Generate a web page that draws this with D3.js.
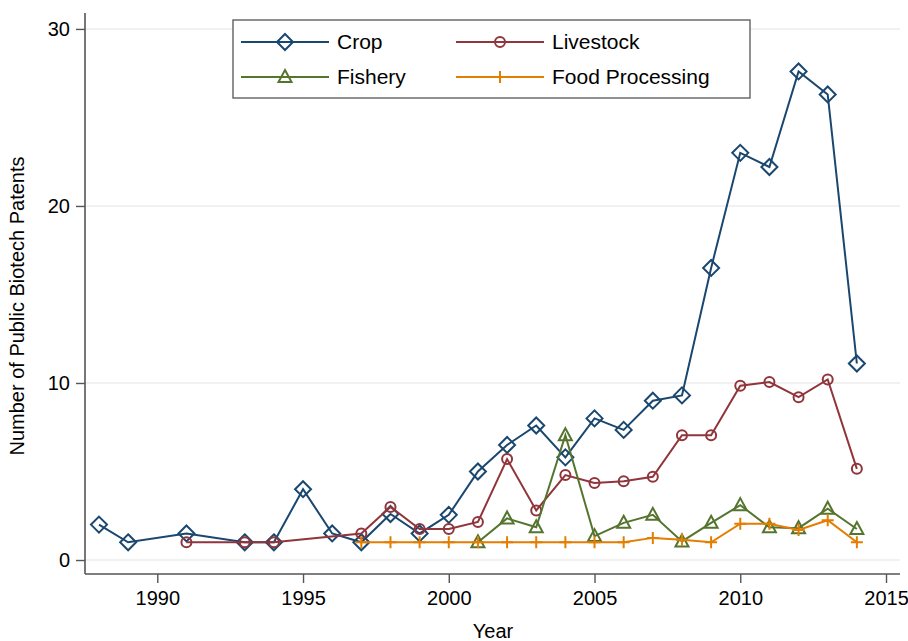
<!DOCTYPE html>
<html>
<head>
<meta charset="utf-8">
<style>
body { margin: 0; background: #fff; }
text { font-family: "Liberation Sans", Arial, sans-serif; fill: #000; }
</style>
</head>
<body>
<svg id="chart" width="908" height="641"></svg>
<script src="https://d3js.org/d3.v7.min.js"></script>
<script>

// data
var cropYears = [1988, 1989, 1991, 1993, 1994, 1995, 1996, 1997, 1998, 1999, 2000, 2001, 2002, 2003, 2004, 2005, 2006, 2007, 2008, 2009, 2010, 2011, 2012, 2013, 2014]
var cropVals  = [2, 1, 1.5, 1, 1, 4, 1.5, 1, 2.6, 1.5, 2.55, 5, 6.5, 7.6, 5.8, 8, 7.35, 9, 9.3, 16.5, 23, 22.2, 27.6, 26.3, 11.1]

var liveYears = [1991, 1993, 1994, 1997, 1998, 1999, 2000, 2001, 2002, 2003, 2004, 2005, 2006, 2007, 2008, 2009, 2010, 2011, 2012, 2013, 2014]
var liveVals  = [1, 1, 1, 1.5, 3, 1.75, 1.75, 2.15, 5.7, 2.8, 4.8, 4.35, 4.45, 4.7, 7.05, 7.05, 9.85, 10.05, 9.2, 10.2, 5.15]

var fishYears = [2001, 2002, 2003, 2004, 2005, 2006, 2007, 2008, 2009, 2010, 2011, 2012, 2013, 2014]
var fishVals  = [1, 2.35, 1.85, 7.05, 1.35, 2.1, 2.55, 1.05, 2.1, 3.1, 1.85, 1.8, 2.9, 1.75]

var foodYears = [1997, 1998, 1999, 2000, 2001, 2002, 2003, 2004, 2005, 2006, 2007, 2008, 2009, 2010, 2011, 2012, 2013, 2014]
var foodVals  = [1, 1, 1, 1, 1, 1, 1, 1, 1, 1, 1.25, 1.15, 1, 2.05, 2.05, 1.7, 2.25, 1]

var xTicks = [1990, 1995, 2000, 2005, 2010, 2015]
var yTicks = [0, 10, 20, 30]

var series = [
  {name: "Crop", years: cropYears, vals: cropVals, color: "#1a476f", shape: "diamond"},
  {name: "Livestock", years: liveYears, vals: liveVals, color: "#90353b", shape: "circle"},
  {name: "Fishery", years: fishYears, vals: fishVals, color: "#55752f", shape: "triangle"},
  {name: "Food Processing", years: foodYears, vals: foodVals, color: "#e37e00", shape: "plus"}
]

var svg = d3.select("#chart")
var pLeft = 85, pRight = 900, pTop = 13, pBottom = 574

var x = d3.scaleLinear().domain([1987.52, 2015.48]).range([pLeft, pRight])
var y = d3.scaleLinear().domain([-0.79, 30.9]).range([pBottom, pTop])

// grid
svg.selectAll(".grid").data(yTicks).enter().append("line")
   .attr("x1", pLeft).attr("x2", pRight)
   .attr("y1", function(d){ return y(d) }).attr("y2", function(d){ return y(d) })
   .attr("stroke", "#ececec").attr("stroke-width", 1.5)

// axes
var yAxis = svg.append("g").attr("transform", "translate(" + pLeft + ",0)")
   .call(d3.axisLeft(y).tickValues(yTicks).tickSize(9).tickPadding(6))
var xAxis = svg.append("g").attr("transform", "translate(0," + pBottom + ")")
   .call(d3.axisBottom(x).tickValues(xTicks).tickFormat(d3.format("d")).tickSize(9).tickPadding(8))

svg.selectAll(".domain").attr("stroke", "#555").attr("stroke-width", 1.6)
svg.selectAll(".tick line").attr("stroke", "#555").attr("stroke-width", 1.4)
svg.selectAll(".tick text").style("font-size", "20px").style("font-family", "Liberation Sans, Arial, sans-serif").attr("fill", "#000")
xAxis.select(".domain").attr("d", "M" + pLeft + ",0H" + pRight)
yAxis.select(".domain").attr("d", "M0," + pTop + "V" + pBottom)

svg.append("text").attr("x", 493).attr("y", 638).attr("text-anchor", "middle")
   .style("font-size", "20px").text("Year")
svg.append("text").attr("transform", "translate(24,306) rotate(-90)").attr("text-anchor", "middle")
   .style("font-size", "20px").text("Number of Public Biotech Patents")

function marker(g, shape, color) {
  if (shape == "diamond") {
    g.append("path").attr("d", "M0,-8L8,0L0,8L-8,0Z")
  } else if (shape == "circle") {
    g.append("circle").attr("r", 5)
  } else if (shape == "triangle") {
    g.append("path").attr("d", "M0,-7L6.5,5L-6.5,5Z")
  } else {
    g.append("path").attr("d", "M0,-6V6M-6,0H6")
  }
  g.selectAll("*").attr("fill", "none").attr("stroke", color).attr("stroke-width", 2)
}

var line = d3.line().x(function(d){ return x(d[0]) }).y(function(d){ return y(d[1]) })

series.forEach(function(s){
  var pts = s.years.map(function(yr, i){ return [yr, s.vals[i]] })
  svg.append("path").datum(pts).attr("d", line)
     .attr("fill", "none").attr("stroke", s.color).attr("stroke-width", 2)
  pts.forEach(function(p){
    var g = svg.append("g").attr("transform", "translate(" + x(p[0]) + "," + y(p[1]) + ")")
    marker(g, s.shape, s.color)
  })
})

// legend
var lg = svg.append("g")
lg.append("rect").attr("x", 233).attr("y", 20).attr("width", 517).attr("height", 78)
  .attr("fill", "#fff").attr("stroke", "#555").attr("stroke-width", 1.3)
var legPos = [[241, 42], [456, 42], [241, 77], [456, 77]]
series.forEach(function(s, i){
  var px = legPos[i][0], py = legPos[i][1]
  lg.append("line").attr("x1", px).attr("x2", px + 88).attr("y1", py).attr("y2", py)
    .attr("stroke", s.color).attr("stroke-width", 2)
  var g = lg.append("g").attr("transform", "translate(" + (px + 44) + "," + py + ")")
  marker(g, s.shape, s.color)
  lg.append("text").attr("x", px + 96).attr("y", py + 7).style("font-size", "21px").text(s.name)
})

</script>
</body>
</html>
